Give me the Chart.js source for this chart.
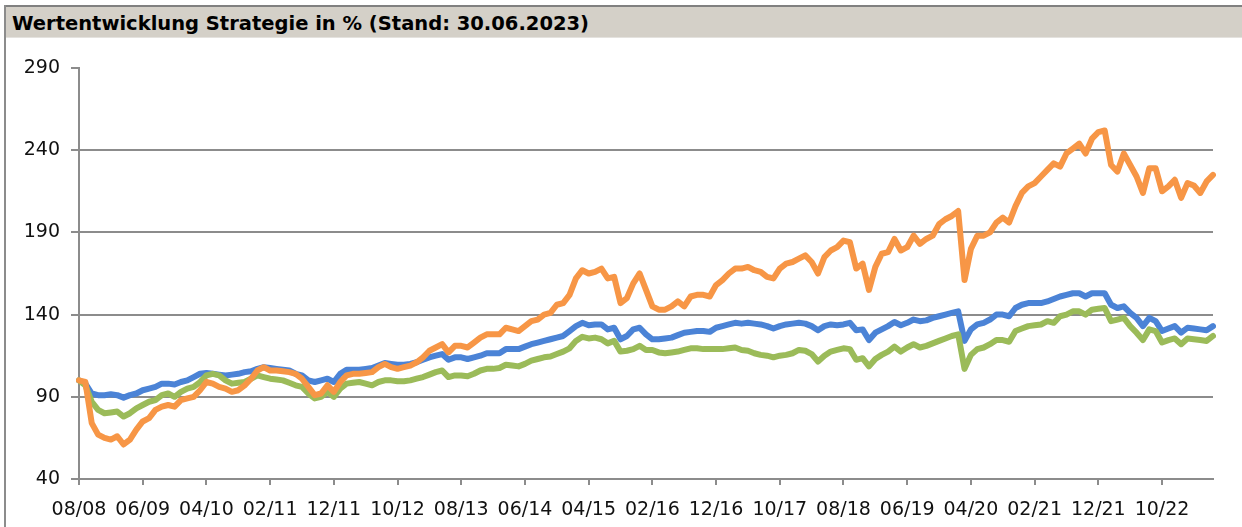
<!DOCTYPE html>
<html>
<head>
<meta charset="utf-8">
<script src="https://cdn.jsdelivr.net/npm/chart.js@4.4.1/dist/chart.umd.min.js"></script>
<style>
  html, body { margin: 0; padding: 0; background: #fff; }
  body { width: 1242px; height: 527px; position: relative; overflow: hidden; }
  #frameLeft { position: absolute; left: 4px; top: 5px; width: 2px; height: 522px; background: #8c8c8c; }
  #title {
    position: absolute; left: 6px; top: 5px; right: 0; height: 30px;
    border-top: 2px solid #808080; border-bottom: 1px solid #e4e2de;
    background: #d4d0c8; color: #000;
    font: bold 19.5px "DejaVu Sans", Verdana, sans-serif; line-height: 33px;
    padding-left: 6px; white-space: nowrap;
  }
  #wrap { position: absolute; left: 0; top: 40px; width: 1242px; height: 487px; }
</style>
</head>
<body>
<div id="frameLeft"></div>
<div id="title">Wertentwicklung Strategie in % (Stand: 30.06.2023)</div>
<div id="wrap"><canvas id="chart" width="1242" height="487"></canvas></div>
<script>
// monthly values 08/2008 .. 06/2023, indexed to 100
const START_YEAR = 2008;
const START_MONTH = 8;
const N_MONTHS = 179;

const TICK_LABELS = ['08/08', '06/09', '04/10', '02/11', '12/11', '10/12', '08/13', '06/14', '04/15',
  '02/16', '12/16', '10/17', '08/18', '06/19', '04/20', '02/21', '12/21', '10/22'];

const Y_TICKS = [40, 90, 140, 190, 240, 290];

const SERIES_BLUE = [
  100, 98, 92, 91, 91, 91.5, 91, 89.5, 91, 92,
  94, 95, 96, 98, 98, 97.5, 99, 100, 102, 104,
  104.5, 104, 103.5, 103, 103.5, 104, 105, 105.5, 107, 108,
  107.5, 107, 106.5, 106, 104, 103, 100, 99, 100, 101,
  99, 104, 106.5, 106.5, 106.5, 107, 107.5, 109, 110.5, 110,
  109.5, 109.5, 110, 111, 112.5, 114, 115, 116, 112.5, 114,
  114, 113, 114, 115, 116.5, 116.5, 116.5, 119, 119, 119,
  120.5, 122, 123, 124, 125, 126, 127, 130, 133, 135,
  133.5, 134, 134, 131, 132, 125, 127, 131, 132, 128,
  125, 125, 125.5, 126, 127.5, 129, 129.5, 130, 130, 129.5,
  132, 133, 134, 135, 134.5, 135, 134.5, 134, 133, 131.5,
  133, 134, 134.5, 135, 134.5, 133, 130.5, 133, 134, 133.5,
  134, 135, 130.5, 131, 124.5, 129, 131, 133, 135.5, 133.5,
  135, 137, 136, 136.5, 138, 139, 140, 141, 142, 124,
  131, 134, 135, 137, 140, 140, 139, 144, 146, 147,
  147, 147, 148, 149.5, 151, 152, 153, 153, 151, 153,
  153, 153, 146, 144, 145, 141, 138, 133, 138, 136,
  130, 131.5, 133, 129, 132, 131.5, 131, 130.5, 133
];

const SERIES_GREEN = [
  100, 97, 87, 82, 80, 80.5, 81, 78, 80, 83,
  85, 87, 88, 91, 92, 90, 93, 95, 96, 99,
  103, 104, 103, 100, 98, 98.5, 99, 101, 103, 102,
  101, 100.5, 100, 98.5, 97, 96, 92, 89, 90, 93,
  90, 95, 98, 98.5, 99, 98, 97, 99, 100, 100,
  99.5, 99.5, 100, 101, 102, 103.5, 105, 106, 102, 103,
  103, 102.5, 104, 106, 107, 107, 107.5, 109.5, 109, 108.5,
  110, 112, 113, 114, 114.5, 116, 117.5, 119.5, 124, 126.5,
  125.5, 126, 125, 122.5, 124, 117.5, 118, 119, 121, 118.5,
  118.5, 117, 116.5, 117, 117.5, 118.5, 119.5, 119.5, 119, 119,
  119, 119, 119.5, 120, 118.5, 118, 116.5, 115.5, 115, 114,
  115, 115.5, 116.5, 118.5, 118, 116, 111.5, 115, 117.5, 118.5,
  119.5, 119, 112.5, 113.5, 108.5, 113, 115.5, 117.5, 120.5, 117.5,
  120, 122, 120, 121, 122.5, 124, 125.5, 127, 128, 107,
  115.5, 119, 120, 122, 124.5, 124.5, 123.5, 130, 131.5, 133,
  133.5, 134, 136, 135, 139, 140, 142, 142, 140, 143,
  143.5, 144, 136, 137, 138, 133, 129, 124.5, 131, 130,
  123, 124.5, 125.5, 122, 125.5, 125, 124.5, 124, 127
];

const SERIES_ORANGE = [
  100, 99, 74, 67, 65, 64, 66, 61, 64, 70,
  75, 77, 82, 84, 85, 84, 88, 89, 90, 94,
  99, 98, 96, 95, 93, 94, 97, 101, 106, 108,
  106, 106, 105.5, 105, 104, 101, 96, 91, 92, 97,
  93, 99, 103, 104, 104, 104.5, 105, 108, 110, 108,
  107, 108, 109, 111, 114, 118, 120, 122, 117, 121,
  121, 120, 123, 126, 128, 128, 128, 132, 131, 130,
  133, 136, 137, 140, 141, 146, 147, 152, 162, 167,
  165, 166, 168, 162, 163, 147, 150, 159, 165, 155,
  145, 143, 143, 145, 148, 145, 151, 152, 152, 151,
  158, 161, 165, 168, 168, 169, 167, 166, 163, 162,
  168, 171, 172, 174, 176, 172, 165, 175, 179, 181,
  185, 184, 168, 171, 155, 169, 177, 178, 186, 179,
  181, 188, 183, 186, 188, 195, 198, 200, 203, 161,
  180, 188, 188, 190, 196, 199, 196, 206, 214, 218,
  220, 224, 228, 232, 230, 238, 241, 244, 238, 247,
  251, 252, 231, 227, 238, 231, 224, 214, 229, 229,
  215, 218, 222, 211, 220, 218.5, 214, 221, 225
];

const COLOR_BLUE = '#4b83d6';
const COLOR_GREEN = '#9bbb59';
const COLOR_ORANGE = '#f79646';
const AXIS_GRAY = '#8c8c8c';
const FONT_FAMILY = '"DejaVu Sans", Verdana, sans-serif';

// category labels MM/YY
const MONTHS = [];
for (let i = 0; i < N_MONTHS; i++) {
  const m = (START_MONTH - 1 + i) % 12 + 1;
  const y = START_YEAR + Math.floor((START_MONTH - 1 + i) / 12);
  MONTHS.push(String(m).padStart(2, '0') + '/' + String(y % 100).padStart(2, '0'));
}

function lineSet(label, data, color, order) {
  return {
    label,
    data,
    borderColor: color,
    backgroundColor: color,
    borderWidth: 6,
    pointRadius: 0,
    tension: 0,
    borderJoinStyle: 'round',
    borderCapStyle: 'round',
    fill: false,
    order,
  };
}

new Chart(document.getElementById('chart'), {
  type: 'line',
  data: {
    labels: MONTHS,
    datasets: [
      lineSet('Blau', SERIES_BLUE, COLOR_BLUE, 2),
      lineSet('Grün', SERIES_GREEN, COLOR_GREEN, 1),
      lineSet('Orange', SERIES_ORANGE, COLOR_ORANGE, 0),
    ],
  },
  options: {
    responsive: false,
    animation: false,
    devicePixelRatio: 1,
    layout: { padding: { top: 28, right: 29, left: 0, bottom: 0 } },
    plugins: { legend: { display: false }, tooltip: { enabled: false } },
    scales: {
      x: {
        offset: false,
        afterFit(scale) { scale.height = 48; },
        border: { display: true, color: AXIS_GRAY, width: 2 },
        grid: {
          drawOnChartArea: false,
          drawTicks: true,
          tickLength: 6,
          color: AXIS_GRAY,
          lineWidth: 2,
        },
        ticks: {
          autoSkip: false,
          maxRotation: 0,
          minRotation: 0,
          padding: 14,
          color: '#111',
          font: { family: FONT_FAMILY, size: 19 },
          callback(val, idx) {
            const lab = MONTHS[idx];
            return TICK_LABELS.includes(lab) ? lab : null;
          },
        },
      },
      y: {
        min: Y_TICKS[0],
        max: Y_TICKS[Y_TICKS.length - 1],
        afterFit(scale) { scale.width = 79; },
        afterBuildTicks(scale) { scale.ticks = Y_TICKS.map(v => ({ value: v })); },
        border: { display: true, color: AXIS_GRAY, width: 2 },
        grid: {
          color(ctx) { return ctx.tick && ctx.tick.value === 290 ? 'rgba(0,0,0,0)' : AXIS_GRAY; },
          tickColor: AXIS_GRAY,
          lineWidth: 2,
          tickLength: 8,
        },
        ticks: {
          padding: 11,
          color: '#111',
          font: { family: FONT_FAMILY, size: 19 },
        },
      },
    },
  },
});
</script>
</body>
</html>
